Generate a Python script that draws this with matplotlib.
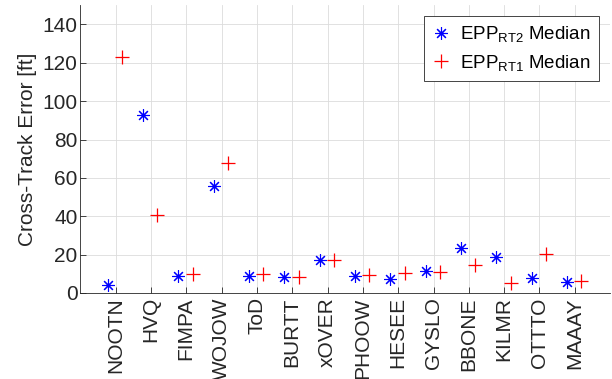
import matplotlib
matplotlib.use("Agg")
import matplotlib.pyplot as plt
import numpy as np

# ── data ──────────────────────────────────────────────────────────────────────
WAYPOINTS = ["NOOTN", "HVQ", "FIMPA", "WOJOW", "ToD", "BURTT", "xOVER",
             "PHOOW", "HESEE", "GYSLO", "BBONE", "KILMR", "OTTTO", "MAAAY"]
RT2_MEDIAN = [4.3, 92.9, 9.0, 55.6, 9.0, 8.2, 17.0,
              8.7, 7.5, 11.6, 23.6, 18.9, 7.6, 5.9]
RT1_MEDIAN = [123.2, 40.8, 9.7, 67.7, 10.1, 8.5, 17.4,
              9.4, 10.4, 10.8, 14.6, 5.2, 20.1, 6.3]

# ── style ─────────────────────────────────────────────────────────────────────
plt.rcParams["font.family"] = ["Liberation Sans", "DejaVu Sans"]
plt.rcParams["mathtext.fontset"] = "custom"
plt.rcParams["mathtext.rm"] = "Liberation Sans"
plt.rcParams["mathtext.it"] = "Liberation Sans"

AX_COLOR = "#262626"
TICK_FS = 15

fig = plt.figure(figsize=(6.12, 3.79), dpi=100, facecolor="white")
ax = fig.add_axes([0.131, 0.227, 0.866, 0.759])

x = np.arange(1, len(WAYPOINTS) + 1)
ax.plot(x - 0.22, RT2_MEDIAN, linestyle="none", marker=(8, 2, 0),
        markersize=9, markeredgewidth=0.8, color="#0000ff",
        label=r"EPP$_{\mathrm{RT2}}$ Median")
ax.plot(x + 0.18, RT1_MEDIAN, linestyle="none", marker="+",
        markersize=10, markeredgewidth=0.9, color="#ff0000",
        label=r"EPP$_{\mathrm{RT1}}$ Median")

ax.set_xlim(0, 15)
ax.set_ylim(0, 150)
ax.set_xticks(x)
ax.set_xticklabels(WAYPOINTS, rotation=90, fontsize=TICK_FS)
ax.set_yticks(np.arange(0, 141, 20))
ax.tick_params(axis="y", labelsize=TICK_FS, pad=2)
ax.tick_params(axis="x", pad=3)
ax.tick_params(axis="both", colors=AX_COLOR, labelcolor=AX_COLOR,
               direction="in", length=4, width=0.6)
ax.set_ylabel("Cross-Track Error [ft]", fontsize=15, color=AX_COLOR, labelpad=4)

ax.grid(True, color="#dcdcdc", linewidth=0.6)
ax.set_axisbelow(True)
for side in ("top", "right"):
    ax.spines[side].set_visible(False)
for side in ("left", "bottom"):
    ax.spines[side].set_color(AX_COLOR)
    ax.spines[side].set_linewidth(0.6)

leg = ax.legend(loc="upper right", fontsize=13.5, fancybox=False, framealpha=1,
                edgecolor=AX_COLOR, handlelength=1.0, handletextpad=0.5,
                borderpad=0.45, labelspacing=0.45, borderaxespad=0,
                bbox_to_anchor=(0.979, 0.963))
leg.get_frame().set_linewidth(0.6)

fig.savefig("out.png", dpi=100, facecolor="white")
